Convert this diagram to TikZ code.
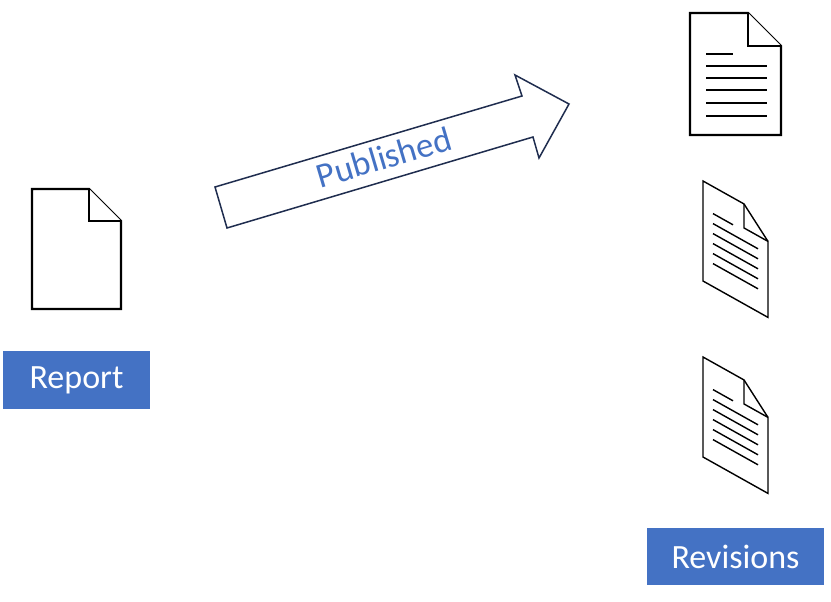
\documentclass[tikz,border=0pt]{standalone}
\usepackage{fontspec}
\setmainfont{Carlito}
\definecolor{lblue}{HTML}{4472C4}
\definecolor{navy}{HTML}{1F2D4F}
\tikzset{
  doc/.style={line width=2.2pt, line join=miter, fill=white},
  tag/.style={fill=lblue, text=white, font=\fontsize{34}{40}\selectfont, inner sep=0pt},
}
\begin{document}
\begin{tikzpicture}[x=1pt, y=-1pt]
\useasboundingbox (0,0) rectangle (831,602);

% report page
\draw[doc] (32,189) -- (89,189) -- (121,221) -- (121,309) -- (32,309) -- cycle;
\draw[doc] (89,189) -- (89,221) -- (121,221);
\node[tag, minimum width=147pt, minimum height=58pt] (report) at (76.5,380) {Report};

% published arrow
\draw[navy, line width=1.5pt, line join=miter, fill=white]
  (215,187) -- (522,96) -- (515,75) -- (569,104) -- (539,158) -- (533,137) -- (227,228) -- cycle;
\node[text=lblue, rotate=16.5, font=\fontsize{35}{42}\selectfont] (pub) at (384,157) {Published};

% current revision
\draw[doc] (690,13) -- (748,13) -- (781,46) -- (781,135) -- (690,135) -- cycle;
\draw[doc] (748,13) -- (748,46) -- (781,46);
\draw[line width=2.2pt] (706,54) -- (733,54);
\foreach \y in {66,78,90,103,116}
  \draw[line width=2.2pt] (706,\y) -- (767,\y);

% older revisions
\foreach \t in {181,357} {
  \begin{scope}[shift={(703,\t)}, cm={1,-0.56,0,1,(0,0)}]
    \draw[line width=1.4pt, line join=miter, fill=white] (0,0) -- (41,0) -- (65,24) -- (65,100) -- (0,100) -- cycle;
    \draw[line width=1.4pt] (41,0) -- (41,24) -- (65,24);
    \draw[line width=1.4pt] (10,27) -- (30,27);
    \foreach \y in {37,47,57,67,77}
      \draw[line width=1.4pt] (10,\y) -- (55,\y);
  \end{scope}
}
\node[tag, minimum width=177pt, minimum height=57pt] (rev) at (735.5,556.5) {Revisions};
\end{tikzpicture}
\end{document}
